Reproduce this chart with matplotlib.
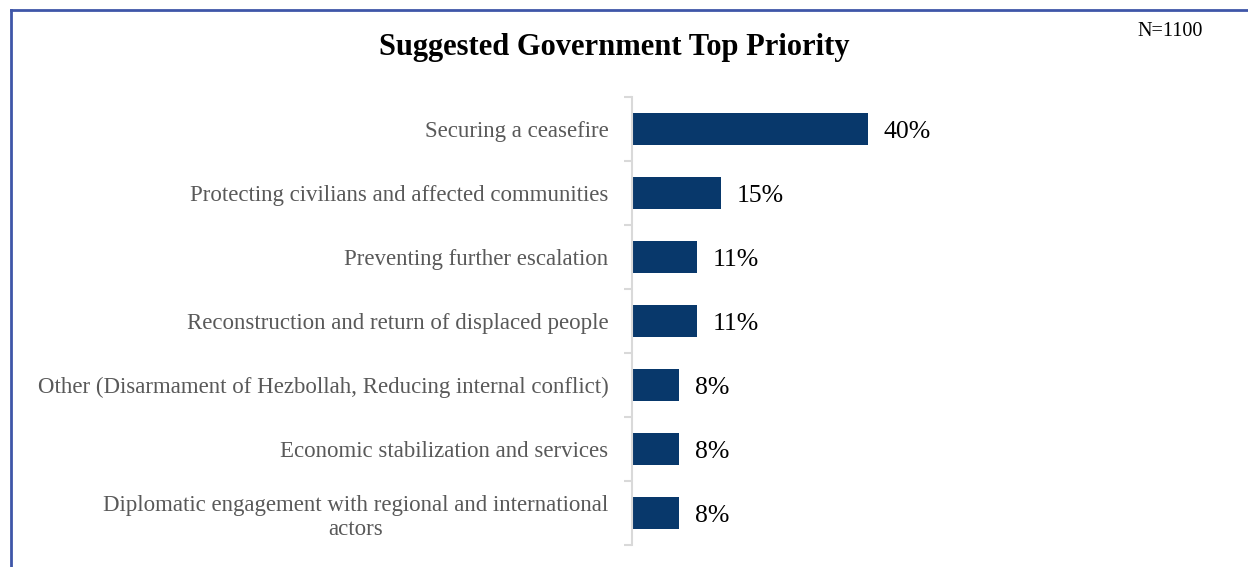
import numpy as np
import matplotlib.pyplot as plt
from matplotlib.lines import Line2D

categories = [
    "Securing a ceasefire",
    "Protecting civilians and affected communities",
    "Preventing further escalation",
    "Reconstruction and return of displaced people",
    "Other (Disarmament of Hezbollah, Reducing internal conflict)",
    "Economic stabilization and services",
    "Diplomatic engagement with regional and international\nactors",
]
values = [40, 15, 11, 11, 8, 8, 8]

plt.rcParams['font.family'] = ['Liberation Serif', 'DejaVu Serif']

fig = plt.figure(figsize=(12.48, 5.67), dpi=100)
ax = fig.add_axes([632 / 1248, 1 - 545 / 567, 354 / 1248, 448 / 567])

y = np.arange(len(categories))
ax.barh(y, values, height=0.5, color='#08386b')
ax.set_ylim(len(categories) - 0.5, -0.5)
ax.set_xlim(0, 60)

for yi, v in zip(y, values):
    ax.text(v + 2.7, yi, f"{v}%", va='center_baseline', ha='left', fontsize=18.5, color='black')

ax.set_yticks(y)
ax.set_yticklabels(categories, fontsize=16.5, color='#595959', linespacing=1.2)
for lbl in ax.get_yticklabels():
    lbl.set_multialignment('center')
ax.set_yticks(np.arange(len(categories) + 1) - 0.5, minor=True)
ax.tick_params(axis='y', which='major', length=0, pad=17)
ax.tick_params(axis='y', which='minor', length=6, width=1.5, color='#d9d9d9')
ax.set_xticks([])
for s in ['top', 'right', 'bottom']:
    ax.spines[s].set_visible(False)
ax.spines['left'].set_color('#d9d9d9')
ax.spines['left'].set_linewidth(1.5)

fig.text(614 / 1248, 1 - 48 / 567, "Suggested Government Top Priority",
         ha='center', va='center', fontsize=22, fontweight='bold')
fig.text(1170 / 1248, 1 - 32 / 567, "N=1100", ha='center', va='center', fontsize=14.5)

# frame line along the top and left edges
fig.add_artist(Line2D([11 / 1248, 11 / 1248], [0, 1 - 10 / 567],
                      transform=fig.transFigure, color='#3f56a8', lw=2))
fig.add_artist(Line2D([11 / 1248, 1], [1 - 10 / 567, 1 - 10 / 567],
                      transform=fig.transFigure, color='#3f56a8', lw=2))

fig.savefig('out.png', dpi=100)
